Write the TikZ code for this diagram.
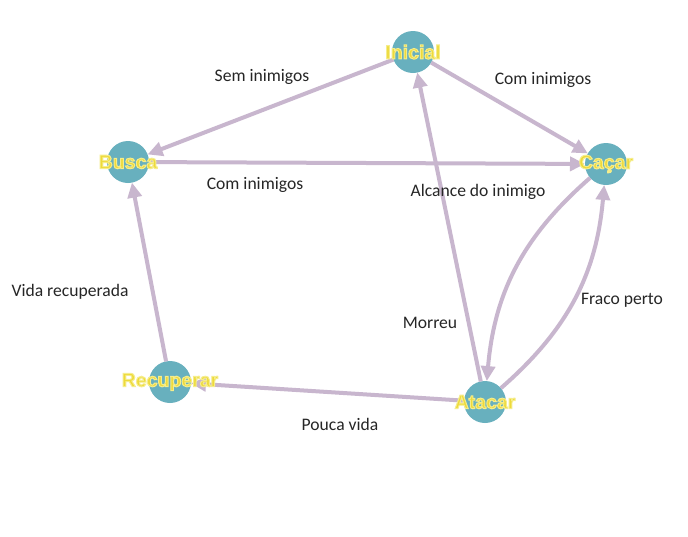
\documentclass[tikz,border=0pt]{standalone}
\usepackage{fontspec}
\setmainfont{Carlito}
\newfontfamily\statefont{Liberation Sans}
\usetikzlibrary{arrows.meta}
\definecolor{edgec}{RGB}{200,182,206}
\definecolor{nodec}{RGB}{104,176,190}
\definecolor{labc}{RGB}{238,218,58}
\tikzset{
  state/.style={circle, fill=nodec, minimum size=42pt, inner sep=0pt, outer sep=0pt},
  edge/.style={draw=edgec, line width=4pt, -{Triangle[length=15pt,width=14pt]}},
  elabel/.style={font=\fontsize{17.6}{20}\selectfont, text=black!85, inner sep=0pt},
  slabel/.style={font=\statefont\bfseries\fontsize{19.5}{22}\selectfont, inner sep=0pt, text=labc},
}
% yellow glyphs with a thin light outline, in one text
\newcommand\outlined[1]{\special{pdf:literal direct 2 Tr 1.0 w 0.96 0.93 0.55 RG}#1\special{pdf:literal direct 0 Tr}}
\begin{document}
\begin{tikzpicture}[x=1pt,y=1pt]
  \useasboundingbox (0,0) rectangle (688,-536);
  \fill[white] (0,0) rectangle (688,-536);
  % states
  \node[state] (ini) at (413,-52) {};
  \node[state] (bus) at (128,-162) {};
  \node[state] (cac) at (606,-164) {};
  \node[state] (rec) at (170,-382) {};
  \node[state] (ata) at (485,-402) {};
  % edges
  \draw[edge] (ini) -- (bus);
  \draw[edge] (ini) -- (cac);
  \draw[edge] (bus) -- (cac);
  \draw[edge] (cac) to[bend right=22] (ata);
  \draw[edge] (ata) to[bend right=22] (cac);
  \draw[edge] (ata) -- (ini);
  \draw[edge] (ata) -- (rec);
  \draw[edge] (rec) -- (bus);
  % edge labels
  \node[elabel] (l1) at (262,-77) {Sem inimigos};
  \node[elabel] (l2) at (543,-80) {Com inimigos};
  \node[elabel] (l3) at (255,-185) {Com inimigos};
  \node[elabel] (l4) at (478,-192) {Alcance do inimigo};
  \node[elabel] (l5) at (70,-292) {Vida recuperada};
  \node[elabel] (l6) at (430,-323) {Morreu};
  \node[elabel] (l7) at (622,-300) {Fraco perto};
  \node[elabel] (l8) at (340,-424) {Pouca vida};
  % state labels
  \node[slabel] (init) at (ini) {\outlined{Inicial}};
  \node[slabel] (bust) at (bus) {\outlined{Busca}};
  \node[slabel] (cact) at (cac) {\outlined{Caçar}};
  \node[slabel] (rect) at (rec) {\outlined{Recuperar}};
  \node[slabel] (atat) at (ata) {\outlined{Atacar}};
\end{tikzpicture}
\end{document}
